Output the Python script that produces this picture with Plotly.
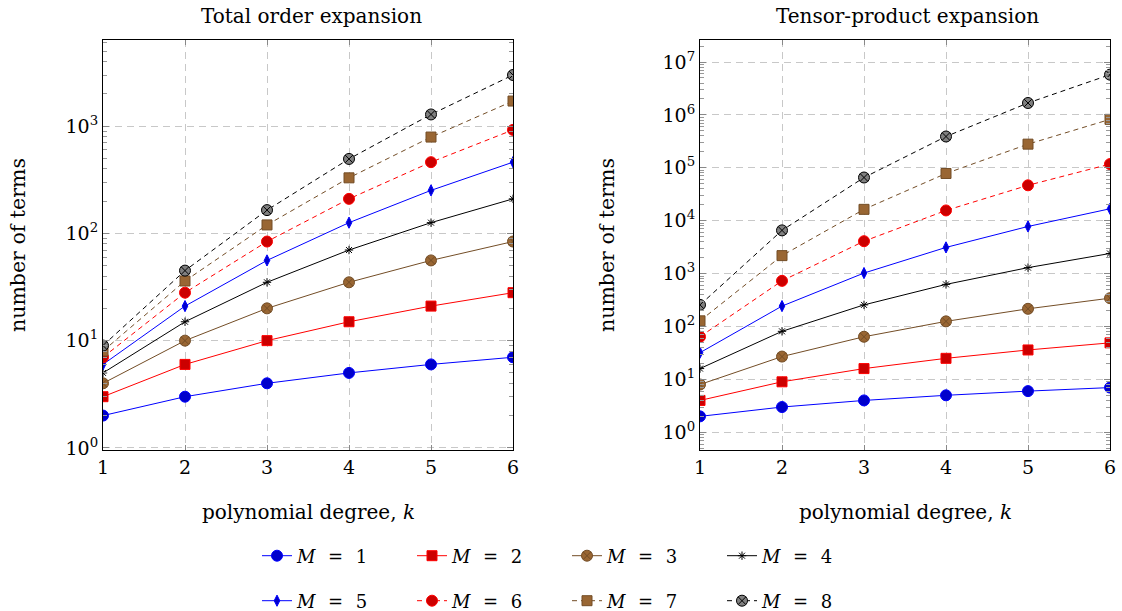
import plotly.graph_objects as go

# ---------------- data ----------------
k = [1, 2, 3, 4, 5, 6]

total_m1 = [2, 3, 4, 5, 6, 7]
total_m2 = [3, 6, 10, 15, 21, 28]
total_m3 = [4, 10, 20, 35, 56, 84]
total_m4 = [5, 15, 35, 70, 126, 210]
total_m5 = [6, 21, 56, 126, 252, 462]
total_m6 = [7, 28, 84, 210, 462, 924]
total_m7 = [8, 36, 120, 330, 792, 1716]
total_m8 = [9, 45, 165, 495, 1287, 3003]

tensor_m1 = [2, 3, 4, 5, 6, 7]
tensor_m2 = [4, 9, 16, 25, 36, 49]
tensor_m3 = [8, 27, 64, 125, 216, 343]
tensor_m4 = [16, 81, 256, 625, 1296, 2401]
tensor_m5 = [32, 243, 1024, 3125, 7776, 16807]
tensor_m6 = [64, 729, 4096, 15625, 46656, 117649]
tensor_m7 = [128, 2187, 16384, 78125, 279936, 823543]
tensor_m8 = [256, 6561, 65536, 390625, 1679616, 5764801]

SP = "\u2002\u2009"
series_names = [f"<i>M</i>{SP}={SP}{i}" for i in range(1, 9)]

left_ytick_vals = [1, 10, 100, 1000]
left_ytick_text = ["10<sup>0</sup>", "10<sup>1</sup>", "10<sup>2</sup>", "10<sup>3</sup>"]
right_ytick_vals = [1, 10, 100, 1000, 1e4, 1e5, 1e6, 1e7]
right_ytick_text = ["10<sup>0</sup>", "10<sup>1</sup>", "10<sup>2</sup>", "10<sup>3</sup>",
                    "10<sup>4</sup>", "10<sup>5</sup>", "10<sup>6</sup>", "10<sup>7</sup>"]
xtick_text = ["1", "2", "3", "4", "5", "6"]

# ---------------- styles ----------------
BLUE, BLUE_F = "#0000ff", "#0000cc"
RED, RED_F = "#ff0000", "#cc0000"
BROWN_L, BROWN_F = "#734d26", "#996633"
styles = [
    dict(line=BLUE, dash="solid", symbol="circle", size=11, fill=BLUE_F, mline=BLUE),
    dict(line=RED, dash="solid", symbol="square", size=10, fill=RED_F, mline=RED),
    dict(line=BROWN_L, dash="solid", symbol="circle-x", size=11, fill=BROWN_F, mline=BROWN_L),
    dict(line="#000000", dash="solid", symbol="asterisk-open", size=7, fill="#000000", mline="#000000"),
    dict(line=BLUE, dash="solid", symbol="diamond-tall", size=8, fill=BLUE_F, mline=BLUE),
    dict(line=RED, dash="5px,4px", symbol="circle", size=11, fill=RED_F, mline=RED),
    dict(line=BROWN_L, dash="5px,4px", symbol="square", size=10, fill=BROWN_F, mline=BROWN_L),
    dict(line="#000000", dash="5px,4px", symbol="circle-x", size=11, fill="#808080", mline="#000000"),
]

total_series = [total_m1, total_m2, total_m3, total_m4, total_m5, total_m6, total_m7, total_m8]
tensor_series = [tensor_m1, tensor_m2, tensor_m3, tensor_m4, tensor_m5, tensor_m6, tensor_m7, tensor_m8]

FONT = "DejaVu Serif"
W, H = 1122, 611

fig = go.Figure()
for i, (name, st) in enumerate(zip(series_names, styles)):
    for ys, xa, ya, show in [(total_series[i], "x", "y", True), (tensor_series[i], "x2", "y2", False)]:
        fig.add_trace(go.Scatter(
            x=k, y=ys, xaxis=xa, yaxis=ya, name=name, mode="lines+markers",
            line=dict(color=st["line"], width=1, dash=st["dash"]),
            marker=dict(symbol=st["symbol"], size=st["size"], color=st["fill"],
                        line=dict(color=st["mline"], width=1)),
            showlegend=show, legend="legend" if i < 4 else "legend2",
        ))

def minor_vals(lo, hi):
    out = []
    for e in range(lo, hi + 1):
        for m in range(2, 10):
            out.append(m * 10.0 ** e)
    return out

xdom_l = [103 / W, 513 / W]
xdom_r = [700 / W, 1110 / W]
ydom = [1 - 450 / H, 1 - 40 / H]

common_x = dict(range=[1, 6], tickvals=k, ticktext=xtick_text, showline=True, linecolor="black",
                linewidth=1, mirror="ticks", ticks="inside", ticklen=5, tickcolor="#888888",
                showgrid=True, gridcolor="#c8c8c8", griddash="7px,5px", gridwidth=1,
                zeroline=False, tickfont=dict(family=FONT, size=19, color="black"))
common_y = dict(type="log", showline=True, linecolor="black", linewidth=1, mirror="ticks",
                ticks="inside", ticklen=6, tickcolor="#888888", showgrid=True, gridcolor="#c8c8c8",
                griddash="7px,5px", gridwidth=1, zeroline=False,
                tickfont=dict(family=FONT, size=19, color="black"))

leg_common = dict(orientation="h", xref="container", yref="container", xanchor="left",
                  yanchor="middle", entrywidth=110, entrywidthmode="pixels",
                  font=dict(family=FONT, size=18, color="black"), bgcolor="rgba(0,0,0,0)")

fig.update_layout(
    width=W, height=H, margin=dict(l=0, r=0, t=0, b=0, autoexpand=False),
    plot_bgcolor="white", paper_bgcolor="white",
    font=dict(family=FONT, color="black"),
    xaxis=dict(domain=xdom_l, anchor="y", **common_x),
    xaxis2=dict(domain=xdom_r, anchor="y2", **common_x),
    yaxis=dict(domain=ydom, anchor="x", range=[-0.02, 3.804], tickvals=left_ytick_vals,
               ticktext=left_ytick_text,
               minor=dict(tickvals=minor_vals(0, 3), ticks="inside", ticklen=4,
                          tickcolor="#999999", showgrid=False),
               **common_y),
    yaxis2=dict(domain=ydom, anchor="x2", range=[-0.335, 7.416], tickvals=right_ytick_vals,
                ticktext=right_ytick_text,
                minor=dict(tickvals=minor_vals(-1, 7), ticks="inside", ticklen=4,
                           tickcolor="#999999", showgrid=False),
                **common_y),
    legend=dict(x=257 / W, y=1 - 556 / H, **leg_common),
    legend2=dict(x=257 / W, y=1 - 601 / H, **leg_common),
)

annos = [
    dict(text="Total order expansion", x=311 / W, y=1 - 16 / H, size=20, angle=0),
    dict(text="Tensor-product expansion", x=907 / W, y=1 - 16 / H, size=20, angle=0),
    dict(text="polynomial degree, <i>k</i>", x=308 / W, y=1 - 512 / H, size=20, angle=0),
    dict(text="polynomial degree, <i>k</i>", x=905 / W, y=1 - 512 / H, size=20, angle=0),
    dict(text="number of terms", x=18 / W, y=1 - 245 / H, size=20.5, angle=-90),
    dict(text="number of terms", x=607 / W, y=1 - 245 / H, size=20.5, angle=-90),
]
for a in annos:
    fig.add_annotation(text=a["text"], x=a["x"], y=a["y"], xref="paper", yref="paper",
                       xanchor="center", yanchor="middle", showarrow=False, textangle=a["angle"],
                       font=dict(family=FONT, size=a["size"], color="black"))

fig.write_html("out.html")
